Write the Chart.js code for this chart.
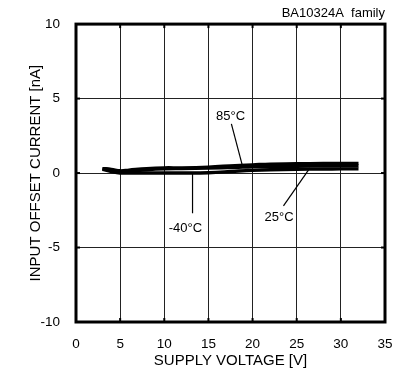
<!DOCTYPE html>
<html><head><meta charset="utf-8">
<script src="https://cdn.jsdelivr.net/npm/chart.js@4"></script>
<style>html,body{margin:0;padding:0;background:#fff}#wrap{width:408px;height:374px}</style>
</head><body><div id="wrap"><canvas id="c" width="408" height="374"></canvas></div>
<script>
const voltage = [3, 4, 5, 6, 8, 10, 12, 15, 18, 20, 22, 25, 28, 30, 32];
const i85 = [0.3, 0.25, 0.15, 0.2, 0.3, 0.35, 0.35, 0.4, 0.5, 0.55, 0.6, 0.62, 0.65, 0.65, 0.65];
const i25 = [0.3, 0.2, 0.1, 0.12, 0.22, 0.28, 0.3, 0.33, 0.38, 0.42, 0.44, 0.46, 0.48, 0.48, 0.48];
const im40 = [0.25, 0.1, 0.0, 0.0, 0.0, 0.0, 0.0, 0.02, 0.12, 0.18, 0.22, 0.25, 0.27, 0.28, 0.28];
const xTicks = [0, 5, 10, 15, 20, 25, 30, 35];
const yTicks = [-10, -5, 0, 5, 10];
const labels = [
  {text: '85\u00b0C', tx: 17.5, ty: 3.8, x1: 17.6, y1: 3.3, x2: 18.8, y2: 0.6},
  {text: '-40\u00b0C', tx: 12.4, ty: -3.7, x1: 13.2, y1: -2.7, x2: 13.2, y2: 0.05},
  {text: '25\u00b0C', tx: 23.0, ty: -3.0, x1: 23.5, y1: -2.2, x2: 26.5, y2: 0.35}
];
const FONT = '"Liberation Sans", Arial, sans-serif';

const deco = {
  id: 'deco',
  afterDraw(chart) {
    const {ctx, chartArea: a, scales: {x, y}} = chart;
    ctx.save();
    ctx.strokeStyle = '#000';
    ctx.lineWidth = 3;
    ctx.strokeRect(a.left, a.top, a.right - a.left, a.bottom - a.top);
    ctx.lineWidth = 2;
    xTicks.slice(1, -1).forEach(v => {
      const px = x.getPixelForValue(v);
      ctx.beginPath(); ctx.moveTo(px, a.bottom); ctx.lineTo(px, a.bottom - 4); ctx.stroke();
      ctx.beginPath(); ctx.moveTo(px, a.top); ctx.lineTo(px, a.top + 4); ctx.stroke();
    });
    yTicks.slice(1, -1).forEach(v => {
      const py = y.getPixelForValue(v);
      ctx.beginPath(); ctx.moveTo(a.left, py); ctx.lineTo(a.left + 4, py); ctx.stroke();
      ctx.beginPath(); ctx.moveTo(a.right, py); ctx.lineTo(a.right - 4, py); ctx.stroke();
    });
    ctx.lineWidth = 1.2;
    ctx.fillStyle = '#000';
    ctx.font = '13px ' + FONT;
    ctx.textAlign = 'center';
    ctx.textBaseline = 'middle';
    labels.forEach(l => {
      ctx.beginPath();
      ctx.moveTo(x.getPixelForValue(l.x1), y.getPixelForValue(l.y1));
      ctx.lineTo(x.getPixelForValue(l.x2), y.getPixelForValue(l.y2));
      ctx.stroke();
      ctx.fillText(l.text, x.getPixelForValue(l.tx), y.getPixelForValue(l.ty));
    });
    ctx.font = '13px ' + FONT;
    ctx.textAlign = 'right';
    ctx.fillText('BA10324A  family', a.right, 13);
    ctx.font = '15px ' + FONT;
    ctx.textAlign = 'center';
    ctx.fillText('SUPPLY VOLTAGE [V]', (a.left + a.right) / 2, 361);
    ctx.translate(36, (a.top + a.bottom) / 2);
    ctx.rotate(-Math.PI / 2);
    ctx.fillText('INPUT OFFSET CURRENT [nA]', 0, 0);
    ctx.restore();
  }
};

const ds = (d) => ({data: d.map((v, i) => ({x: voltage[i], y: v})), borderColor: '#000', borderWidth: 3.4, pointRadius: 0, tension: 0.4, fill: false});

new Chart(document.getElementById('c'), {
  type: 'line',
  data: {datasets: [ds(i85), ds(i25), ds(im40)]},
  options: {
    responsive: false, animation: false,
    layout: {padding: {left: 0, right: 23, top: 24, bottom: 0}},
    plugins: {legend: {display: false}, tooltip: {enabled: false}},
    scales: {
      x: {
        type: 'linear', min: 0, max: 35,
        afterFit(s) { s.height = 52; },
        afterBuildTicks(s) { s.ticks = xTicks.map(v => ({value: v})); },
        grid: {color: '#222', lineWidth: 1, drawTicks: false},
        border: {display: false},
        ticks: {color: '#000', font: {family: FONT, size: 13.5}, padding: 14, maxRotation: 0}
      },
      y: {
        min: -10, max: 10,
        afterFit(s) { s.width = 76; },
        afterBuildTicks(s) { s.ticks = yTicks.map(v => ({value: v})); },
        grid: {color: '#222', lineWidth: 1, drawTicks: false},
        border: {display: false},
        ticks: {color: '#000', font: {family: FONT, size: 13.5}, padding: 16}
      }
    }
  },
  plugins: [deco]
});
</script></body></html>
